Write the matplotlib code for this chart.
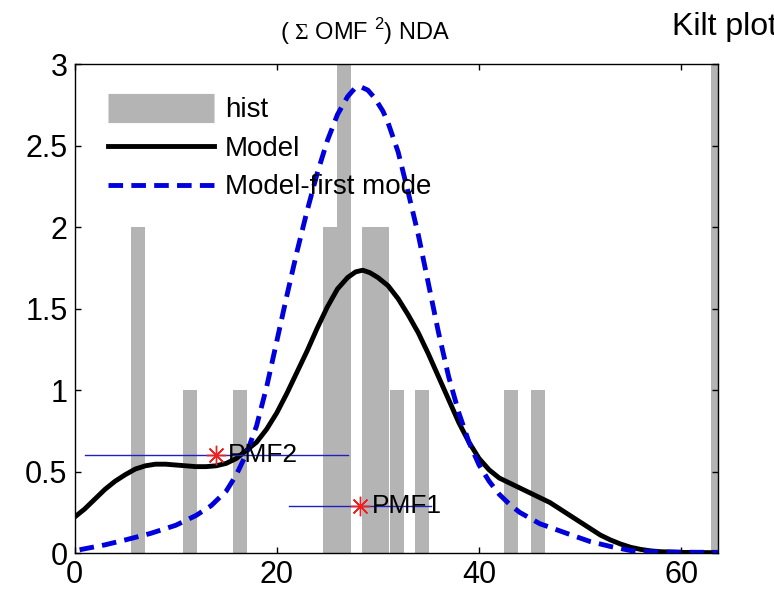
import numpy as np
import matplotlib
matplotlib.use("Agg")
import matplotlib.pyplot as plt
from matplotlib.lines import Line2D

plt.rcParams["font.family"] = ["Liberation Sans", "DejaVu Sans"]
plt.rcParams["mathtext.fontset"] = "custom"
plt.rcParams["mathtext.rm"] = "Liberation Serif"
plt.rcParams["mathtext.sf"] = "Liberation Sans"

# histogram bars (bin centres and counts)
bar_x = [6.3, 11.4, 16.4, 25.3, 26.65, 29.1, 30.45, 31.85, 34.35, 43.2, 45.8, 63.6]
bar_h = [2, 1, 1, 2, 3, 2, 2, 1, 1, 1, 1, 3]
bar_w = 1.38

# Model curve
model_x = [0, 1, 2, 3, 4, 5, 6, 7, 8, 9, 10, 11, 12, 13, 14, 15, 16, 17, 18, 19,
           20, 21, 22, 23, 24, 25, 26, 27, 27.8, 28.5, 29.2, 30, 31, 32, 33, 34,
           35, 36, 37, 38, 39, 40, 41, 42, 43, 44, 45, 46, 47, 48, 49, 50, 51,
           52, 53, 54, 55, 56, 57, 58, 60, 63.6]
model_y = [0.22, 0.27, 0.33, 0.39, 0.44, 0.48, 0.515, 0.535, 0.545, 0.545, 0.54,
           0.535, 0.53, 0.53, 0.535, 0.55, 0.58, 0.63, 0.68, 0.76, 0.86, 0.98,
           1.11, 1.24, 1.38, 1.51, 1.62, 1.69, 1.725, 1.735, 1.72, 1.69, 1.64,
           1.56, 1.46, 1.35, 1.22, 1.08, 0.94, 0.80, 0.68, 0.58, 0.51, 0.46,
           0.43, 0.40, 0.37, 0.34, 0.31, 0.27, 0.23, 0.19, 0.15, 0.11, 0.08,
           0.055, 0.035, 0.022, 0.013, 0.008, 0.004, 0.002]

# Model - first mode curve
first_x = [0.5, 3, 5, 7.5, 10, 12, 13.5, 15, 16, 17, 18, 19, 20, 21, 22, 23, 24,
           25, 26, 27, 27.7, 28.3, 29, 29.7, 30.5, 31, 32, 33, 34, 35, 36, 37, 38,
           39, 40, 41, 42, 43, 44, 46, 48.7, 51, 53, 55, 57, 60, 63.6]
first_y = [0.02, 0.05, 0.08, 0.12, 0.17, 0.23, 0.29, 0.38, 0.48, 0.61, 0.78, 1.02,
           1.30, 1.58, 1.85, 2.10, 2.33, 2.53, 2.69, 2.80, 2.85, 2.86, 2.84, 2.79,
           2.71, 2.64, 2.46, 2.21, 1.95, 1.65, 1.35, 1.08, 0.86, 0.68, 0.54, 0.44,
           0.36, 0.30, 0.25, 0.18, 0.12, 0.07, 0.04, 0.015, 0.008, 0.005, 0.004]

# factor markers: name, centre, height, range of the horizontal bar
pmf_names = ["PMF2", "PMF1"]
pmf_x = [14.0, 28.2]
pmf_y = [0.60, 0.29]
pmf_lo = [1.0, 21.2]
pmf_hi = [27.0, 35.2]

fig = plt.figure(figsize=(7.74, 6), dpi=100)
ax = fig.add_axes([0.0963, 0.0783, 0.831, 0.815])

ax.bar(bar_x, bar_h, width=bar_w, color="#b4b4b4", edgecolor="none", zorder=1)
ax.plot(model_x, model_y, color="black", lw=3.5, zorder=3,
        solid_joinstyle="round")
ax.plot(first_x, first_y, color="#0000dd", lw=3.5, dashes=(3, 1.7), zorder=4)

for name, x, y, lo, hi in zip(pmf_names, pmf_x, pmf_y, pmf_lo, pmf_hi):
    ax.plot([lo, hi], [y, y], color="#2020c0", lw=1, zorder=5)
    ax.plot(x, y, marker=(8, 2, 0), color="#ee2020", ms=14, mew=1, zorder=6)
    ax.text(x + 1.2, y, name, fontsize=19, va="center", ha="left", zorder=7)

ax.set_xlim(0, 63.6)
ax.set_ylim(0, 3)
ax.set_xticks([0, 20, 40, 60])
ax.set_yticks([0, 0.5, 1, 1.5, 2, 2.5, 3])
ax.set_yticklabels(["0", "0.5", "1", "1.5", "2", "2.5", "3"])
ax.tick_params(direction="in", length=4, width=1, labelsize=22,
               top=True, right=True, pad=5)
for sp in ax.spines.values():
    sp.set_linewidth(1)

handles = [
    Line2D([], [], color="#b4b4b4", lw=21, solid_capstyle="butt"),
    Line2D([], [], color="black", lw=3.5),
    Line2D([], [], color="#0000dd", lw=3.5, dashes=(3, 1.7)),
]
ax.legend(handles, ["hist", "Model", "Model-first mode"], loc="upper left",
          bbox_to_anchor=(0.052, 0.932), frameon=False, fontsize=20,
          handlelength=3.8, handletextpad=0.4, labelspacing=0.45,
          borderpad=0, borderaxespad=0)

fig.text(0.472, 0.947, r"( $\Sigma$ OMF $^{\mathsf{2}}$) NDA", fontsize=17,
         ha="center", va="center")
fig.text(0.868, 0.955, "Kilt plot", fontsize=23, ha="left", va="center")

fig.savefig("out.png", dpi=100)
